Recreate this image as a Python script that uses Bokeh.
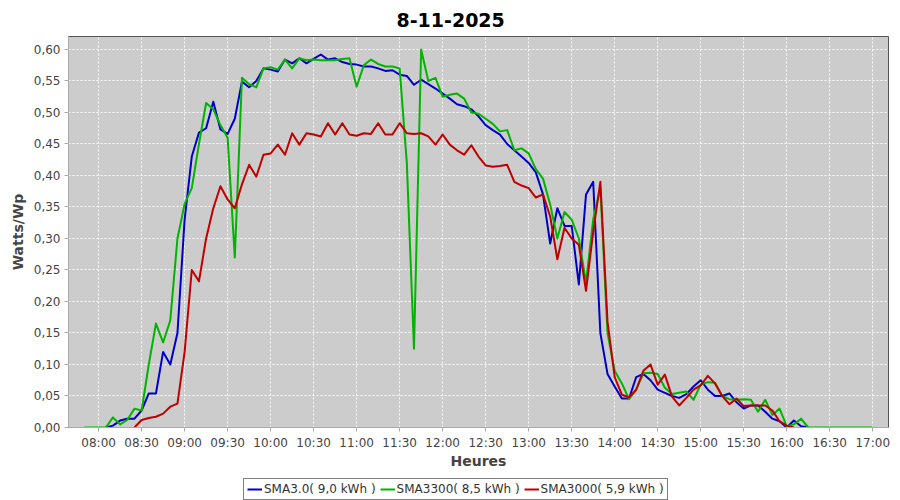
from bokeh.plotting import figure
from bokeh.layouts import column
from bokeh.models import FixedTicker, Legend, LegendItem, Range1d
from bokeh.embed import file_html
from bokeh.resources import INLINE

title_text = "8-11-2025"
x_label = "Heures"
y_label = "Watts/Wp"

x_tick_labels = ["08:00", "08:30", "09:00", "09:30", "10:00", "10:30", "11:00", "11:30", "12:00",
                 "12:30", "13:00", "13:30", "14:00", "14:30", "15:00", "15:30", "16:00", "16:30", "17:00"]
y_tick_values = [0.0, 0.05, 0.10, 0.15, 0.20, 0.25, 0.30, 0.35, 0.40, 0.45, 0.50, 0.55, 0.60]
y_tick_labels = ["0,00", "0,05", "0,10", "0,15", "0,20", "0,25", "0,30", "0,35", "0,40", "0,45", "0,50", "0,55", "0,60"]

series_names = ["SMA3.0( 9,0 kWh )", "SMA3300( 8,5 kWh )", "SMA3000( 5,9 kWh )"]
series_colors = ["#0000c8", "#00b400", "#c00000"]
sample_step_min = 5

# SMA3.0 : samples every 5 min from 08:05
sma30_start = "08:05"
sma30 = [0, 0.003, 0.011, 0.014, 0.014, 0.027, 0.054, 0.054, 0.12, 0.10,
         0.15, 0.33, 0.43, 0.468, 0.475, 0.517, 0.473, 0.466, 0.49, 0.549,
         0.54, 0.55, 0.57, 0.568, 0.565, 0.584, 0.578, 0.586, 0.578, 0.585,
         0.592, 0.584, 0.586, 0.58, 0.577, 0.576, 0.573, 0.573, 0.57, 0.566,
         0.567, 0.56, 0.558, 0.544, 0.552, 0.545, 0.538, 0.53, 0.522, 0.513,
         0.51, 0.505, 0.494, 0.48, 0.472, 0.465, 0.45, 0.44, 0.43, 0.42,
         0.405, 0.37, 0.292, 0.348, 0.32, 0.32, 0.227, 0.37, 0.39, 0.15,
         0.085, 0.065, 0.046, 0.046, 0.08, 0.085, 0.075, 0.06, 0.055, 0.05,
         0.047, 0.053, 0.065, 0.075, 0.06, 0.05, 0.05, 0.054, 0.04, 0.03,
         0.035, 0.035, 0.025, 0.014, 0.01, 0, 0.011, 0.002, 0]

# SMA3300 : samples every 5 min from 07:50
sma3300_start = "07:50"
sma3300 = [0, 0, 0, 0, 0.016, 0.005, 0.012, 0.03, 0.027, 0.10,
           0.165, 0.135, 0.17, 0.30, 0.355, 0.38, 0.45, 0.515, 0.505, 0.48,
           0.46, 0.27, 0.555, 0.545, 0.54, 0.57, 0.572, 0.568, 0.584, 0.57,
           0.586, 0.583, 0.584, 0.583, 0.583, 0.583, 0.585, 0.586, 0.541, 0.575,
           0.584, 0.577, 0.573, 0.573, 0.57, 0.42, 0.125, 0.60, 0.55, 0.555,
           0.525, 0.528, 0.53, 0.522, 0.50, 0.498, 0.49, 0.482, 0.47, 0.472,
           0.44, 0.443, 0.435, 0.41, 0.395, 0.354, 0.30, 0.342, 0.33, 0.30,
           0.23, 0.33, 0.38, 0.15, 0.09, 0.07, 0.045, 0.06, 0.086, 0.087,
           0.085, 0.063, 0.053, 0.055, 0.057, 0.044, 0.068, 0.072, 0.071, 0.05,
           0.045, 0.044, 0.045, 0.044, 0.025, 0.044, 0.02, 0.03, 0.002, 0.005,
           0.014, 0, 0, 0, 0, 0, 0, 0, 0, 0, 0]

# SMA3000 : samples every 5 min from 08:25
sma3000_start = "08:25"
sma3000 = [0, 0.012, 0.015, 0.017, 0.022, 0.033, 0.038, 0.12, 0.25, 0.232,
           0.30, 0.348, 0.383, 0.362, 0.348, 0.386, 0.417, 0.398, 0.433, 0.435,
           0.449, 0.433, 0.467, 0.449, 0.467, 0.465, 0.462, 0.483, 0.465, 0.483,
           0.465, 0.463, 0.467, 0.466, 0.483, 0.465, 0.465, 0.483, 0.467, 0.466,
           0.467, 0.462, 0.449, 0.465, 0.449, 0.44, 0.433, 0.448, 0.43, 0.416,
           0.414, 0.415, 0.417, 0.39, 0.384, 0.38, 0.365, 0.37, 0.335, 0.267,
           0.317, 0.30, 0.29, 0.217, 0.31, 0.39, 0.168, 0.08, 0.052, 0.048,
           0.06, 0.09, 0.10, 0.068, 0.084, 0.049, 0.035, 0.047, 0.06, 0.067,
           0.082, 0.07, 0.05, 0.037, 0.046, 0.034, 0.035, 0.035, 0.035, 0.027,
           0.01, 0.003, 0]


def to_min(s):
    h, m = s.split(":")
    return int(h) * 60 + int(m)


def times_for(start, values):
    t0 = to_min(start)
    return [t0 + sample_step_min * i for i in range(len(values))]


x_ticks = [to_min(s) for s in x_tick_labels]

p = figure(frame_width=820, frame_height=391, output_backend="svg", toolbar_location=None,
           x_range=Range1d(459, 1031), y_range=Range1d(0, 0.6206),
           min_border_left=68, min_border_right=12, min_border_top=35, min_border_bottom=51)

p.background_fill_color = "#cccccc"
p.border_fill_color = "white"
p.outline_line_color = "#555555"
p.outline_line_width = 1

p.title.text = title_text
p.title.align = "left"
p.title.offset = 328
p.title.standoff = 20
p.title.text_font = "DejaVu Sans"
p.title.text_font_style = "bold"
p.title.text_font_size = "19px"
p.title.text_color = "black"

p.xaxis.ticker = FixedTicker(ticks=x_ticks)
p.xaxis.major_label_overrides = {t: l for t, l in zip(x_ticks, x_tick_labels)}
p.yaxis.ticker = FixedTicker(ticks=y_tick_values)
p.yaxis.major_label_overrides = {v: l for v, l in zip(y_tick_values, y_tick_labels)}

for ax in (p.xaxis[0], p.yaxis[0]):
    ax.axis_line_color = "#aaaaaa"
    ax.major_tick_line_color = "#aaaaaa"
    ax.major_tick_out = 4
    ax.major_tick_in = 0
    ax.minor_tick_line_color = None
    ax.major_label_standoff = 4
    ax.major_label_text_font = "DejaVu Sans"
    ax.major_label_text_font_size = "12px"
    ax.major_label_text_color = "#444444"
    ax.axis_label_text_font = "DejaVu Sans"
    ax.axis_label_text_font_size = "14px"
    ax.axis_label_text_font_style = "bold"
    ax.axis_label_text_color = "#444444"
p.xaxis.axis_label_standoff = 0
p.yaxis.axis_label_standoff = 5
p.xaxis.axis_label = x_label
p.yaxis.axis_label = y_label

p.grid.grid_line_color = "white"
p.grid.grid_line_dash = "2 2"
p.grid.grid_line_width = 1
p.grid.grid_line_alpha = 0.9

data = [(sma30_start, sma30), (sma3300_start, sma3300), (sma3000_start, sma3000)]
for (start, vals), name, col in zip(data, series_names, series_colors):
    p.line(times_for(start, vals), vals, line_color=col, line_width=2, line_join="round")

# legend strip below the chart (series drawn again, out of this strip's view, to feed the legend)
leg = figure(frame_width=900, frame_height=22, output_backend="svg", toolbar_location=None,
             x_range=Range1d(0, 1), y_range=Range1d(0, 1), x_axis_type=None, y_axis_type=None,
             min_border_left=0, min_border_right=0, min_border_top=0, min_border_bottom=0)
leg.outline_line_color = None
leg.grid.visible = False
leg.background_fill_color = "white"
leg.border_fill_color = "white"
items = []
for (start, vals), name, col in zip(data, series_names, series_colors):
    r = leg.line(times_for(start, vals), vals, line_color=col, line_width=2)
    items.append(LegendItem(label=name, renderers=[r]))

legend = Legend(items=items, orientation="horizontal", location=(243, 0),
                border_line_color="black", border_line_width=1, background_fill_color="white",
                label_text_font="DejaVu Sans", label_text_font_size="12px", label_text_color="#333333",
                glyph_width=15, glyph_height=10, label_standoff=2, spacing=4,
                padding=3, margin=0, label_height=14)
leg.add_layout(legend, "center")

layout = column(p, leg, spacing=0)
open("out.html", "w").write(file_html(layout, INLINE))
